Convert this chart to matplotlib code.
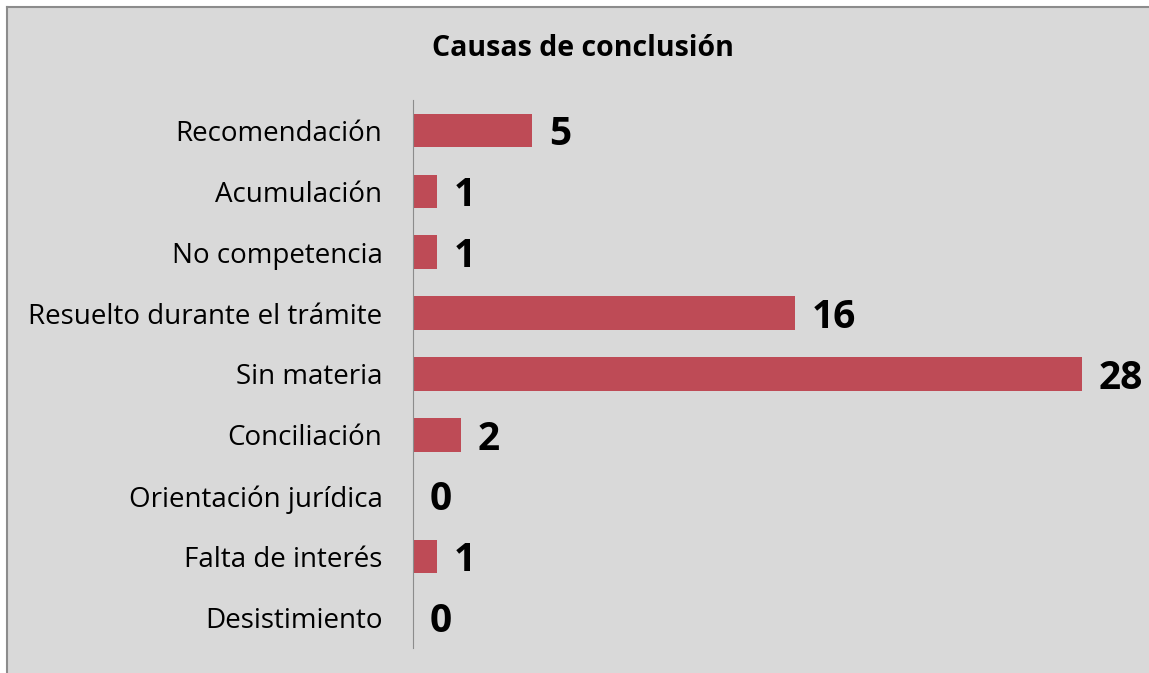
import matplotlib.pyplot as plt
from matplotlib.patches import Rectangle
from matplotlib.lines import Line2D

categories = ["Recomendación", "Acumulación", "No competencia", "Resuelto durante el trámite",
              "Sin materia", "Conciliación", "Orientación jurídica", "Falta de interés", "Desistimiento"]
values = [5, 1, 1, 16, 28, 2, 0, 1, 0]

plt.rcParams['font.family'] = ['Open Sans', 'DejaVu Sans']

W, H = 1149, 673
fig = plt.figure(figsize=(W / 100, H / 100), dpi=100, facecolor="white")

# gray chart area with left/top border
fig.patches.append(Rectangle((6.5 / W, -0.1), 1.2, 1.1 - 6.5 / H, transform=fig.transFigure,
                             facecolor="#D9D9D9", edgecolor="none", zorder=-5))
fig.lines.append(Line2D([6.5 / W, 6.5 / W], [0, 1 - 6.5 / H], transform=fig.transFigure,
                        color="#8C8C8C", lw=1.5, zorder=-4))
fig.lines.append(Line2D([6.5 / W, 1.01], [1 - 6.5 / H, 1 - 6.5 / H], transform=fig.transFigure,
                        color="#8C8C8C", lw=1.5, zorder=-4))

ax = fig.add_axes([413 / W, 1 - 648 / H, (1082 - 413) / W, (648 - 100) / H])
ax.set_zorder(2)
ax.set_facecolor("none")

y = list(range(len(categories)))
bars = ax.barh(y, values, height=0.55, color="#BE4B56", linewidth=0)
ax.set_ylim(len(categories) - 0.5, -0.5)
ax.set_xlim(0, 28)
ax.set_yticks(y)
ax.set_yticklabels(categories, fontsize=20)
ax.tick_params(axis="y", length=0, pad=22)
ax.set_xticks([])
for s in ["top", "right", "bottom"]:
    ax.spines[s].set_visible(False)
ax.spines["left"].set_color("#8C8C8C")

for b, v in zip(bars, values):
    ax.annotate(str(v), (b.get_width(), b.get_y() + b.get_height() / 2),
                xytext=(12, -3), textcoords="offset points", va="center", ha="left",
                fontsize=28, fontweight="bold", annotation_clip=False)

fig.text(583 / W, 1 - 48 / H, "Causas de conclusión", ha="center", va="center",
         fontsize=20.5, fontweight="bold", zorder=3)

fig.savefig("out.png", dpi=100, facecolor=fig.get_facecolor())
